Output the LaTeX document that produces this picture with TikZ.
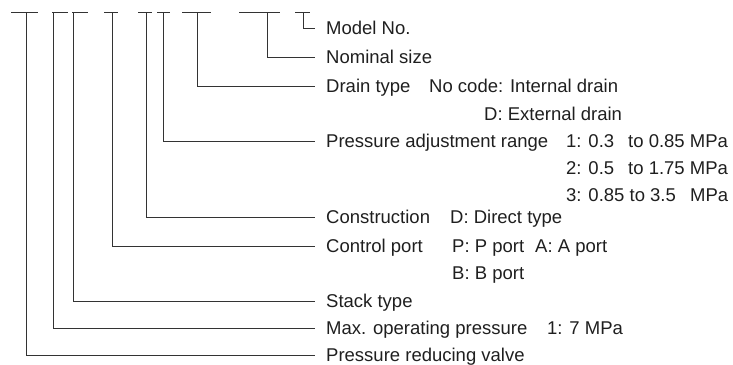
\documentclass[tikz,border=0pt]{standalone}
\usepackage{fontspec}
\setmainfont{Liberation Sans}
\begin{document}
\begin{tikzpicture}[x=1pt,y=-1pt,
  lbl/.style={anchor=west,inner sep=0pt,text height=13.2pt,text depth=0pt,font=\fontsize{18.5}{20}\selectfont,text=black!88},
  lead/.style={draw=black!80,line width=0.9pt},
  uline/.style={draw=black!80,line width=0.9pt}]
\useasboundingbox (0,0) rectangle (733,364);
% underlines of the code
\foreach \a/\b in {11/38,52/68,72/88,104/118,138/152,157/170,182/211,239/280,295/310}
  \draw[uline] (\a,12) -- (\b,12);
% top points of the leaders
\coordinate (t1) at (26,12);
\coordinate (t2) at (53,12);
\coordinate (t3) at (73,12);
\coordinate (t4) at (112,12);
\coordinate (t5) at (146,12);
\coordinate (t6) at (163,12);
\coordinate (t7) at (197,12);
\coordinate (t8) at (267,12);
\coordinate (t9) at (303,12);
% labels
\node[lbl] (model) at (326,28) {Model No.};
\node[lbl] (nom) at (326,57) {Nominal size};
\node[lbl] (drain) at (326,86) {Drain type};
\node[lbl] (drainA) at (429,86) {No code: Internal drain};
\node[lbl] (drainB) at (484,114) {D: External drain};
\node[lbl] (pres) at (326,141) {Pressure adjustment range};
\node[lbl] (p1a) at (566,141) {1: 0.3};
\node[lbl] (p1b) at (628,141) {to 0.85 MPa};
\node[lbl] (p2a) at (566,168) {2: 0.5};
\node[lbl] (p2b) at (628,168) {to 1.75 MPa};
\node[lbl] (p3a) at (566,195) {3: 0.85 to 3.5};
\node[lbl] (p3c) at (690,195) {MPa};
\node[lbl] (cons) at (326,217) {Construction};
\node[lbl] (consA) at (450,217) {D: Direct type};
\node[lbl] (ctrl) at (326,246) {Control port};
\node[lbl] (ctrlA) at (452,246) {P: P port};
\node[lbl] (ctrlB) at (535,246) {A: A port};
\node[lbl] (ctrlC) at (452,273) {B: B port};
\node[lbl] (stack) at (326,301) {Stack type};
\node[lbl] (maxp) at (326,328) {Max. operating pressure};
\node[lbl] (maxpA) at (547,328) {1: 7 MPa};
\node[lbl] (prv) at (326,355) {Pressure reducing valve};
% leaders
\draw[lead] (t9) |- ([xshift=-11pt]model.west);
\draw[lead] (t8) |- ([xshift=-11pt]nom.west);
\draw[lead] (t7) |- ([xshift=-11pt]drain.west);
\draw[lead] (t6) |- ([xshift=-11pt]pres.west);
\draw[lead] (t5) |- ([xshift=-11pt]cons.west);
\draw[lead] (t4) |- ([xshift=-11pt]ctrl.west);
\draw[lead] (t3) |- ([xshift=-11pt]stack.west);
\draw[lead] (t2) |- ([xshift=-11pt]maxp.west);
\draw[lead] (t1) |- ([xshift=-11pt]prv.west);
\end{tikzpicture}
\end{document}
